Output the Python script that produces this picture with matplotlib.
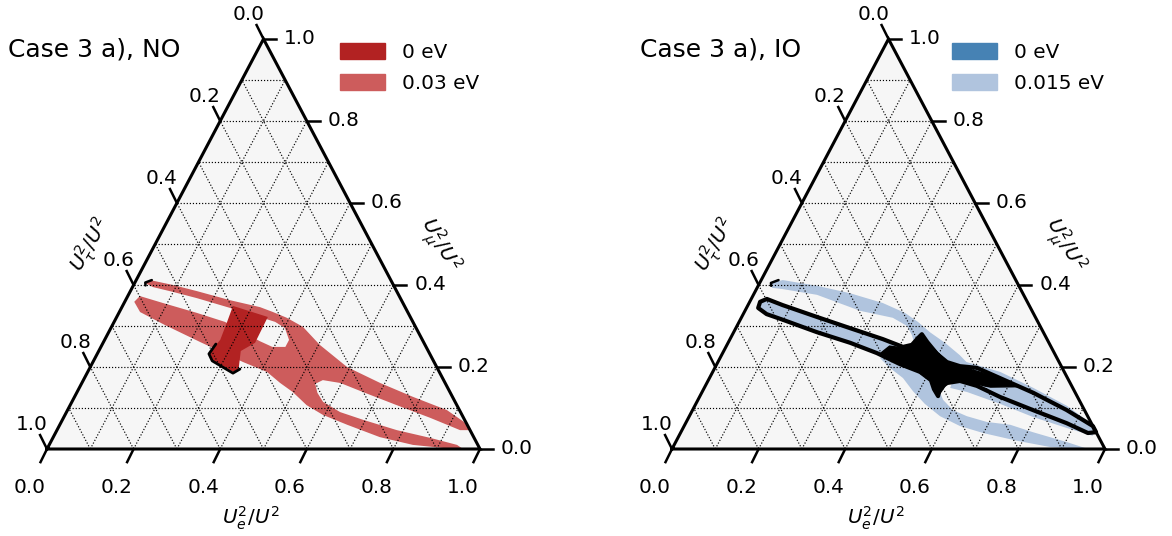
import numpy as np
import matplotlib.pyplot as plt
from matplotlib.patches import Polygon, Patch

# points are (U_e^2/U^2, U_mu^2/U^2); U_tau^2/U^2 = 1 - e - mu

# NO, 0.03 eV region (outline)
no_03_e = [0.024, 0.032, 0.091, 0.154, 0.241, 0.319, 0.355, 0.394, 0.442, 0.503,
           0.593, 0.689, 0.782, 0.876, 0.930, 0.954, 0.931, 0.847, 0.754, 0.660,
           0.597, 0.553, 0.540, 0.556, 0.580, 0.632, 0.695, 0.785, 0.872, 0.942,
           0.957, 0.938, 0.840, 0.754, 0.664, 0.596, 0.546, 0.498, 0.458, 0.414,
           0.347, 0.223, 0.122, 0.048, 0.022, 0.028, 0.090, 0.180, 0.256, 0.331,
           0.360, 0.396, 0.426, 0.426, 0.402, 0.372, 0.337, 0.292, 0.251, 0.162,
           0.100, 0.047]
no_03_mu = [0.405, 0.412, 0.400, 0.385, 0.363, 0.346, 0.334, 0.320, 0.298, 0.254,
            0.200, 0.161, 0.127, 0.095, 0.066, 0.046, 0.046, 0.076, 0.107, 0.139,
            0.161, 0.168, 0.159, 0.137, 0.115, 0.090, 0.071, 0.046, 0.027, 0.010,
            0.002, 0.000, 0.010, 0.029, 0.059, 0.083, 0.107, 0.139, 0.161, 0.188,
            0.212, 0.261, 0.302, 0.334, 0.359, 0.373, 0.356, 0.332, 0.310, 0.276,
            0.263, 0.249, 0.249, 0.266, 0.295, 0.310, 0.320, 0.329, 0.344, 0.368,
            0.383, 0.395]

# NO, 0 eV region
no_0_e = [0.255, 0.349, 0.351, 0.328, 0.345, 0.336, 0.272, 0.257, 0.267, 0.261]
no_0_mu = [0.349, 0.322, 0.259, 0.239, 0.195, 0.188, 0.217, 0.234, 0.266, 0.310]
no_0_rim_e = [0.262, 0.258, 0.274, 0.337, 0.348]
no_0_rim_mu = [0.256, 0.232, 0.215, 0.185, 0.195]
no_0_tip_e = [0.036, 0.024, 0.028]
no_0_tip_mu = [0.412, 0.406, 0.399]

# IO, 0.015 eV region
io_015_e = [0.024, 0.050, 0.136, 0.221, 0.309, 0.372, 0.413, 0.453, 0.501, 0.550,
            0.594, 0.551, 0.540, 0.566, 0.601, 0.641, 0.694, 0.752, 0.813, 0.903,
            0.961, 0.931, 0.870, 0.787, 0.699, 0.637, 0.579, 0.529, 0.486, 0.447,
            0.404, 0.369, 0.406, 0.436, 0.415, 0.393, 0.350, 0.266, 0.147, 0.061,
            0.035]
io_015_mu = [0.405, 0.412, 0.398, 0.380, 0.356, 0.332, 0.310, 0.285, 0.259, 0.229,
             0.198, 0.159, 0.149, 0.120, 0.095, 0.080, 0.066, 0.059, 0.041, 0.017,
             0.000, 0.000, 0.005, 0.020, 0.039, 0.056, 0.080, 0.110, 0.141, 0.173,
             0.198, 0.222, 0.241, 0.251, 0.278, 0.300, 0.320, 0.337, 0.376, 0.390,
             0.393]
io_015_arm_e = [0.556, 0.664, 0.760, 0.860, 0.939, 0.956, 0.887, 0.795, 0.703, 0.612, 0.568]
io_015_arm_mu = [0.217, 0.188, 0.149, 0.105, 0.061, 0.032, 0.051, 0.078, 0.110, 0.139, 0.149]

# IO, 0 eV region
io_0_e = [0.024, 0.036, 0.080, 0.174, 0.263, 0.353, 0.409, 0.427, 0.433, 0.437,
          0.459, 0.496, 0.529, 0.564, 0.605, 0.671, 0.766, 0.864, 0.944, 0.959,
          0.941, 0.880, 0.786, 0.694, 0.627, 0.582, 0.555, 0.544, 0.550, 0.532,
          0.514, 0.479, 0.423, 0.356, 0.282, 0.192, 0.099, 0.054, 0.027]
io_0_mu = [0.359, 0.366, 0.351, 0.322, 0.295, 0.268, 0.249, 0.254, 0.271, 0.280,
           0.261, 0.232, 0.212, 0.202, 0.198, 0.173, 0.137, 0.095, 0.056, 0.041,
           0.039, 0.063, 0.095, 0.127, 0.154, 0.166, 0.161, 0.149, 0.129, 0.146,
           0.168, 0.188, 0.207, 0.234, 0.259, 0.285, 0.315, 0.329, 0.344]
io_0_core_e = [0.377, 0.415, 0.427, 0.438, 0.469, 0.529, 0.570, 0.643, 0.725,
               0.660, 0.587, 0.555, 0.550, 0.517, 0.465, 0.407, 0.364]
io_0_core_mu = [0.251, 0.246, 0.254, 0.278, 0.254, 0.212, 0.200, 0.181, 0.152,
                0.151, 0.166, 0.161, 0.129, 0.166, 0.193, 0.217, 0.232]
io_0_tip_e = [0.040, 0.026, 0.030]
io_0_tip_mu = [0.412, 0.405, 0.398]

ticks = [0.0, 0.2, 0.4, 0.6, 0.8, 1.0]
grid_vals = [0.1, 0.2, 0.3, 0.4, 0.5, 0.6, 0.7, 0.8, 0.9]

FS = 14.4


def tern(e, mu):
    e = np.asarray(e, dtype=float)
    mu = np.asarray(mu, dtype=float)
    return e + mu / 2, mu


def region(ax, e, mu, **kw):
    x, y = tern(e, mu)
    ax.add_patch(Polygon(np.column_stack([x, y]), closed=True, **kw))


def frame(ax):
    ax.set_xlim(0, 1)
    ax.set_ylim(0, 1)
    ax.axis('off')
    ax.fill([0, 1, 0.5], [0, 0, 1], color='#f6f6f6', zorder=0)
    for v in grid_vals:
        gkw = dict(color='k', lw=0.85, ls=(0, (1, 1.6)), zorder=6)
        x, y = tern([v, v], [0, 1 - v])            # const e
        ax.plot(x, y, **gkw)
        x, y = tern([0, 1 - v], [v, v])            # const mu
        ax.plot(x, y, **gkw)
        x, y = tern([1 - v, 0], [0, 1 - v])        # const tau
        ax.plot(x, y, **gkw)
    ax.plot([0, 1, 0.5, 0], [0, 0, 1, 0], color='k', lw=2.2, zorder=7,
            clip_on=False, solid_joinstyle='miter')
    tk = dict(color='k', lw=1.8, clip_on=False, zorder=7)
    for t in ticks:
        lab = f"{t:.1f}"
        # bottom: U_e
        ax.plot([t, t - 0.015], [0, -0.032], **tk)
        ax.text(t - 0.039, -0.093, lab, ha='center', va='center', fontsize=FS)
        # left: U_tau
        x, y = (1 - t) / 2, 1 - t
        ax.plot([x, x - 0.016], [y, y + 0.034], **tk)
        ax.text(x - 0.035, y + 0.059, lab, ha='center', va='center', fontsize=FS)
        # right: U_mu
        x, y = 1 - t / 2, t
        ax.plot([x, x + 0.03], [y, y], **tk)
        ax.text(x + 0.048, y, lab, ha='left', va='center', fontsize=FS)
    ax.text(0.47, -0.168, r'$U_e^2/U^2$', ha='center', va='center', fontsize=FS)
    ax.text(0.1, 0.498, r'$U_\tau^2/U^2$', ha='center', va='center',
            rotation=60, fontsize=FS)
    ax.text(0.905, 0.498, r'$U_\mu^2/U^2$', ha='center', va='center',
            rotation=-60, fontsize=FS)


fig = plt.figure(figsize=(11.72, 5.36), dpi=100)
ax1 = fig.add_axes([47 / 1172, 87 / 536, 433 / 1172, 410 / 536])
ax2 = fig.add_axes([672 / 1172, 87 / 536, 433 / 1172, 410 / 536])

# NO
frame(ax1)
region(ax1, no_03_e, no_03_mu, facecolor='indianred', edgecolor='none', zorder=2)
region(ax1, no_0_e, no_0_mu, facecolor='firebrick', edgecolor='none', zorder=3)
x, y = tern(no_0_rim_e, no_0_rim_mu)
ax1.plot(x, y, color='k', lw=2, zorder=4, solid_capstyle='round')
x, y = tern(no_0_tip_e, no_0_tip_mu)
ax1.plot(x, y, color='k', lw=1.8, zorder=4, solid_capstyle='round')

# IO
frame(ax2)
region(ax2, io_015_e, io_015_mu, facecolor='lightsteelblue', edgecolor='none', zorder=2)
region(ax2, io_015_arm_e, io_015_arm_mu, facecolor='lightsteelblue', edgecolor='none', zorder=2)
region(ax2, io_0_e, io_0_mu, facecolor='lightsteelblue', edgecolor='k', lw=3,
       joinstyle='round', zorder=3)
region(ax2, io_0_core_e, io_0_core_mu, facecolor='k', edgecolor='k', lw=1, zorder=4)
x, y = tern(io_0_tip_e, io_0_tip_mu)
ax2.plot(x, y, color='k', lw=1.8, zorder=4, solid_capstyle='round')

fig.text(8 / 1172, 1 - 50 / 536, 'Case 3 a), NO', fontsize=18, va='center')
fig.text(640 / 1172, 1 - 50 / 536, 'Case 3 a), IO', fontsize=18, va='center')

lkw = dict(loc='upper left', bbox_transform=fig.transFigure, frameon=False,
           fontsize=FS, handlelength=2.25, handleheight=0.85, handletextpad=0.85,
           labelspacing=0.6)
ax1.legend([Patch(color='firebrick'), Patch(color='indianred')], ['0 eV', '0.03 eV'],
           bbox_to_anchor=(322 / 1172, 1 - 25 / 536), **lkw)
ax2.legend([Patch(color='steelblue'), Patch(color='lightsteelblue')], ['0 eV', '0.015 eV'],
           bbox_to_anchor=(934 / 1172, 1 - 25 / 536), **lkw)

fig.savefig('out.png', dpi=100)
